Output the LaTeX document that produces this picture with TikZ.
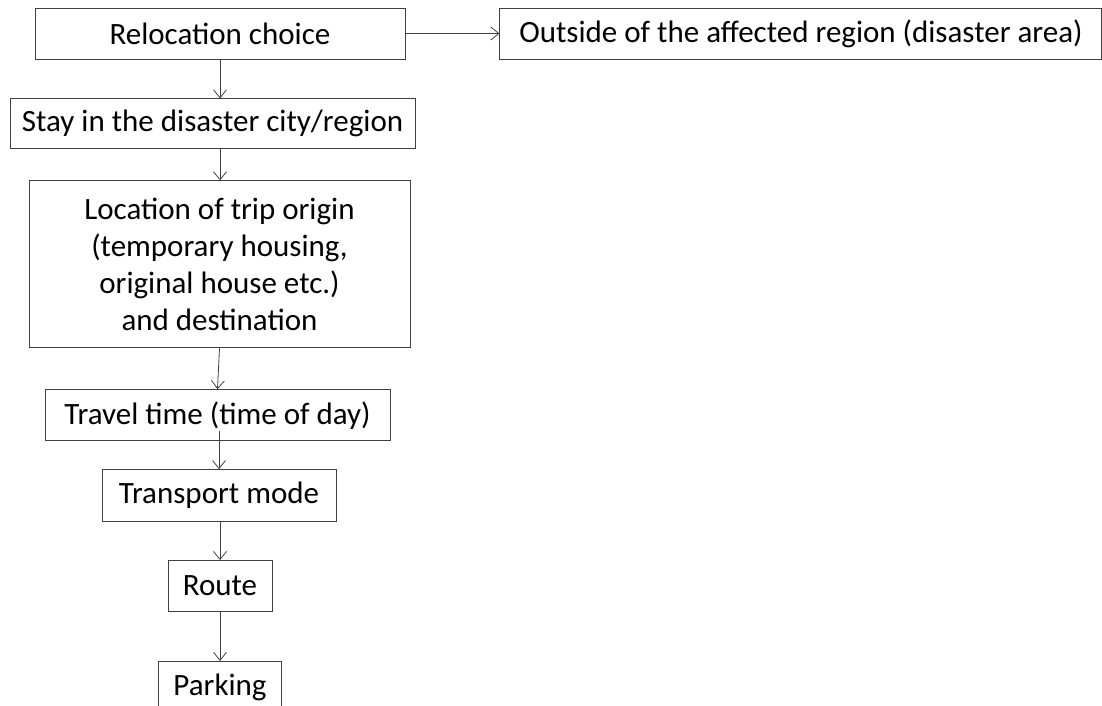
\documentclass[tikz,border=0pt]{standalone}
\usepackage{fontspec}
\setmainfont{Carlito}
\usepackage{tikz}
\usetikzlibrary{arrows.meta,positioning}
\tikzset{
  post/.style={->,>={Straight Barb[length=8pt,width=13pt]},line width=0.8pt,draw=black!75},
}

\begin{document}
\begin{tikzpicture}[x=1pt,y=1pt,
      stepbox/.style={draw=black!75,line width=0.9pt,inner sep=0pt,minimum height=51pt,
        align=center,font=\fontsize{31}{37}\selectfont},]
      \useasboundingbox (0,0) rectangle (1102,-706);
      \node[stepbox,minimum width=370pt] (reloc) at (220,-33.5) {Relocation choice};
      \node[stepbox,minimum width=602pt,right=94pt of reloc] (outside)
        {Outside of the affected region (disaster area)};
      \node[stepbox,minimum width=405pt,minimum height=50pt,below=39pt of reloc,xshift=-7.5pt] (stay)
        {Stay in the disaster city/region};
      \node[stepbox,minimum width=381pt,minimum height=167pt,below=31pt of stay,xshift=7pt] (loc)
        {Location of trip origin\\(temporary housing,\\original house etc.)\\and destination};
      \node[stepbox,minimum width=345pt,below=41pt of loc,xshift=-2pt] (travel)
        {Travel time (time of day)};
      \node[stepbox,minimum width=234pt,minimum height=52pt,below=28pt of travel,xshift=1.5pt] (mode)
        {Transport mode};
      \node[stepbox,minimum width=104pt,below=38pt of mode,xshift=1pt] (route) {Route};
      \node[stepbox,minimum width=123pt,below=49pt of route] (parking) {Parking};

      \draw[post] (reloc) -- (outside);
      \draw[post] (reloc.south) -- (reloc.south |- stay.north);
      \draw[post] (reloc.south |- stay.south) -- (reloc.south |- loc.north);
      \draw[post] (loc.south) -- ([xshift=-2pt]loc.south |- travel.north);
      % line starts a little inside the box above
      \draw[post] ([yshift=10pt]mode.north |- travel.south) -- (mode.north);
      \draw[post] (route.north |- mode.south) -- (route.north);
      \draw[post] (route.south) -- (parking.north);
\end{tikzpicture}
\end{document}
